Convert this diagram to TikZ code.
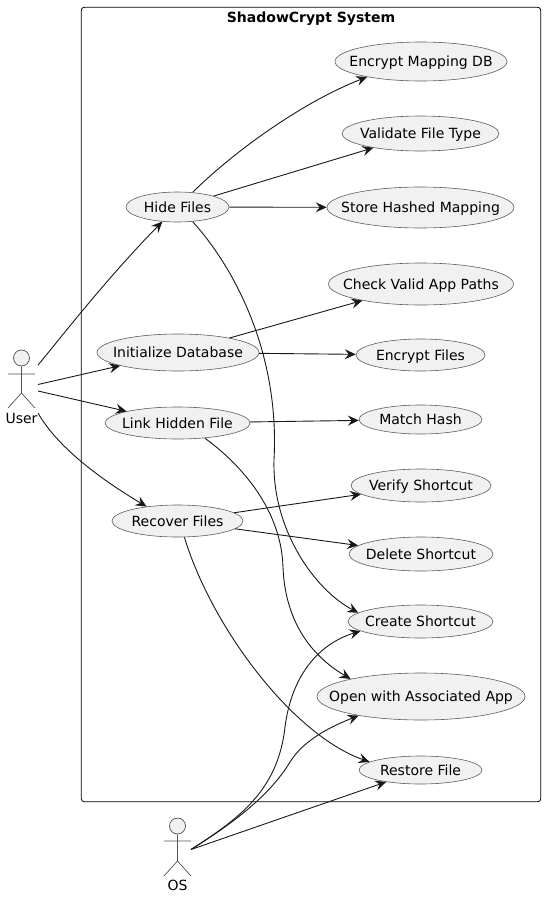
\documentclass[tikz,border=0pt]{standalone}
\usepackage{fontspec}
\setmainfont{DejaVu Sans}
\usetikzlibrary{arrows.meta,shapes.geometric}
\definecolor{boxfill}{HTML}{F1F1F1}
\definecolor{ink}{HTML}{181818}
\tikzset{
  usecase/.style={ellipse,draw=ink!70,fill=boxfill,line width=.6pt,inner xsep=-100pt,inner ysep=-20pt,text height=10pt,text depth=0pt,font=\fontsize{14}{16}\selectfont,text=black},
  conn/.style={draw=ink,line width=.9pt,-{Stealth[length=11pt,width=10pt,inset=4pt]}},
  limb/.style={draw=ink!75,line width=.7pt},
  actorname/.style={inner sep=0pt,text height=10pt,text depth=0pt,font=\fontsize{14}{16}\selectfont,text=black}
}
\begin{document}
\begin{tikzpicture}[x=1pt,y=-1pt]
\useasboundingbox (0,0) rectangle (545,897);
% system frame
\node (frame) [draw=black,line width=.8pt,rounded corners=3pt,inner sep=0pt,minimum width=459.5pt,minimum height=794.5pt] at (311,404.5) {};
\node (title) [inner sep=0pt,text height=10pt,text depth=0pt,font=\fontsize{14}{16}\selectfont\bfseries] at (311,17) {ShadowCrypt System};
% left column
\node[usecase,minimum width=103pt,minimum height=30pt] (hide) at (177.5,207) {Hide Files};
\node[usecase,minimum width=162pt,minimum height=37pt] (init) at (178,352.5) {Initialize Database};
\node[usecase,minimum width=145pt,minimum height=32pt] (link) at (177.5,423) {Link Hidden File};
\node[usecase,minimum width=131pt,minimum height=32pt] (recover) at (177.5,521) {Recover Files};
% right column
\node[usecase,minimum width=172pt,minimum height=39pt] (encdb) at (421,61.5) {Encrypt Mapping DB};
\node[usecase,minimum width=157pt,minimum height=35pt] (validate) at (420.5,133.5) {Validate File Type};
\node[usecase,minimum width=187pt,minimum height=41pt] (store) at (420.5,207.5) {Store Hashed Mapping};
\node[usecase,minimum width=185pt,minimum height=42pt] (paths) at (421,284) {Check Valid App Paths};
\node[usecase,minimum width=129pt,minimum height=32pt] (encfiles) at (420.5,355) {Encrypt Files};
\node[usecase,minimum width=123pt,minimum height=29pt] (hash) at (420.5,419.5) {Match Hash};
\node[usecase,minimum width=140pt,minimum height=33pt] (verify) at (421,485.5) {Verify Shortcut};
\node[usecase,minimum width=144pt,minimum height=34pt] (delete) at (421,554) {Delete Shortcut};
\node[usecase,minimum width=145pt,minimum height=33pt] (shortcut) at (420.5,621.5) {Create Shortcut};
\node[usecase,minimum width=208pt,minimum height=47pt] (openapp) at (421,696.5) {Open with Associated App};
\node[usecase,minimum width=123pt,minimum height=28pt] (restore) at (420.5,770) {Restore File};
% actors
\node (userhead) [circle,draw=ink!75,fill=boxfill,line width=.7pt,inner sep=0pt,minimum size=16pt] at (21.5,358) {};
\draw[limb] (userhead.south) -- (21.5,393) -- (8,408) (21.5,393) -- (35,408) (8,374) -- (35,374);
\node[actorname] (username) at (21.5,418) {User};
\node (oshead) [circle,draw=ink!75,fill=boxfill,line width=.7pt,inner sep=0pt,minimum size=16pt] at (177.5,826) {};
\draw[limb] (oshead.south) -- (177.5,861) -- (164,876) (177.5,861) -- (191,876) (164,841) -- (191,841);
\node[actorname] (osname) at (177.5,885) {OS};
\coordinate (userA) at (38,365);
\coordinate (userB) at (38,384.5);
\coordinate (userC) at (38,391);
\coordinate (userD) at (38,413);
\coordinate (osA) at (191,849.5);
% user links
\draw[conn] (userA) .. controls (55,345) and (105,280) .. (hide.224);
\draw[conn] (userB) -- (init);
\draw[conn] (userC) -- (link);
\draw[conn] (userD) .. controls (55,443) and (92,474) .. (recover.155);
% hide files
\draw[conn] (hide.44) .. controls (230,155) and (300,103) .. (encdb.196);
\draw[conn] (hide) -- (validate);
\draw[conn] (hide) -- (store);
\draw[conn] (hide.316) .. controls (232,265) and (280,350) .. (274,460) .. controls (272,530) and (315,590) .. (shortcut.172);
% initialize
\draw[conn] (init) -- (paths);
\draw[conn] (init) -- (encfiles);
% link hidden
\draw[conn] (link) -- (hash);
\draw[conn] (link.331) .. controls (235,460) and (281,505) .. (283,567) .. controls (285,620) and (310,655) .. (openapp.166);
% recover
\draw[conn] (recover) -- (verify);
\draw[conn] (recover) -- (delete);
\draw[conn] (recover.293) .. controls (212,628) and (293,735) .. (restore.171);
% os links
\draw[conn] (osA) .. controls (240,818) and (278,790) .. (285,727) .. controls (291,680) and (315,645) .. (shortcut.189);
\draw[conn] (osA) .. controls (235,822) and (270,795) .. (290,762) .. controls (305,738) and (335,725) .. (openapp.197);
\draw[conn] (osA) -- (restore);
\end{tikzpicture}
\end{document}
